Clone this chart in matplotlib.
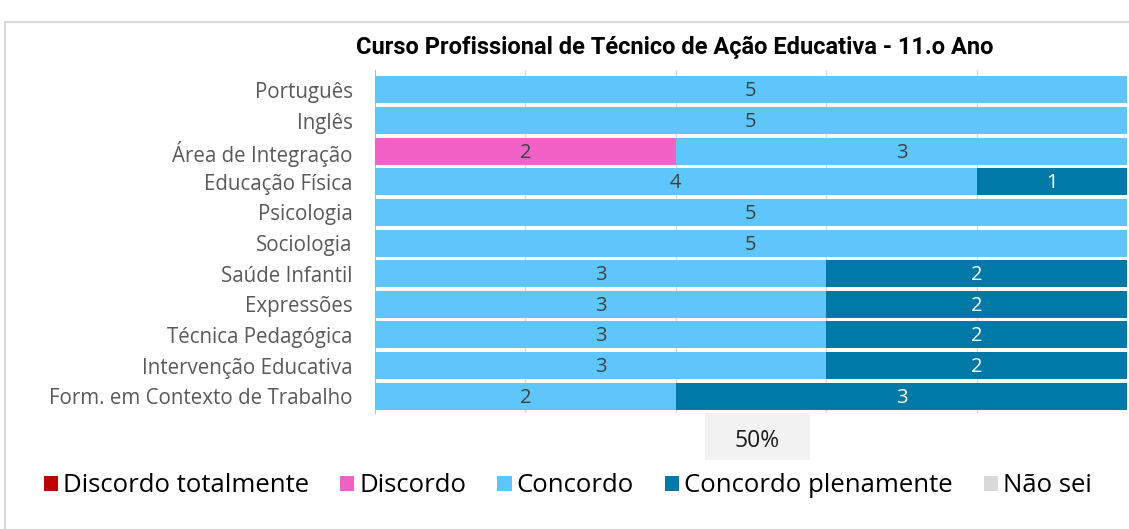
import matplotlib.pyplot as plt
import numpy as np
from matplotlib.patches import Rectangle

plt.rcParams['font.family'] = ['Open Sans', 'DejaVu Sans']

# data
disciplinas = ['Português', 'Inglês', 'Área de Integração', 'Educação Física',
               'Psicologia', 'Sociologia', 'Saúde Infantil', 'Expressões',
               'Técnica Pedagógica', 'Intervenção Educativa',
               'Form. em Contexto de Trabalho']
series_names = ['Discordo totalmente', 'Discordo', 'Concordo',
                'Concordo plenamente', 'Não sei']
discordo_tot = [0, 0, 0, 0, 0, 0, 0, 0, 0, 0, 0]
discordo = [0, 0, 2, 0, 0, 0, 0, 0, 0, 0, 0]
concordo = [5, 5, 3, 4, 5, 5, 3, 3, 3, 3, 2]
concordo_plen = [0, 0, 0, 1, 0, 0, 2, 2, 2, 2, 3]
nao_sei = [0, 0, 0, 0, 0, 0, 0, 0, 0, 0, 0]

colors = ['#C00000', '#F262C6', '#5EC6FB', '#0079A7', '#D9D9D9']
label_colors = ['white', '#404040', '#404040', 'white', '#404040']

fig = plt.figure(figsize=(11.29, 5.29), dpi=100)
# chart frame
fig.patches.append(Rectangle((5 / 1129, -0.01), 1.02, 1 - 22 / 529 + 0.01,
                             transform=fig.transFigure, fill=False,
                             edgecolor='#D9D9D9', lw=1.5))

ax = fig.add_axes([375 / 1129, 1 - 413 / 529, 752 / 1129, 343 / 529])

data = np.array([discordo_tot, discordo, concordo, concordo_plen, nao_sei], dtype=float)
totals = data.sum(axis=0)
y = np.arange(len(disciplinas))
left = np.zeros(len(disciplinas))
for k in range(len(series_names)):
    share = data[k] / totals
    ax.barh(y, share, left=left, height=0.88, color=colors[k],
            label=series_names[k], zorder=3)
    for i in range(len(disciplinas)):
        if data[k][i] > 0:
            ax.text(left[i] + share[i] / 2, y[i] + 0.05, f'{int(data[k][i])}',
                    ha='center', va='center', fontsize=14.5,
                    color=label_colors[k], zorder=4)
    left += share

ax.set_xlim(0, 1)
ax.set_ylim(len(disciplinas) - 0.5 + 0.05, -0.65)
ax.set_yticks(y)
ax.set_yticklabels(disciplinas, fontsize=14.8, color='#595959')
ax.tick_params(axis='y', length=0, pad=16)
ax.set_xticks([0.2, 0.4, 0.6, 0.8])
ax.tick_params(axis='x', length=0, labelbottom=False)
ax.grid(axis='x', color='#D9D9D9', lw=1, zorder=0)
for s in ['top', 'right', 'bottom']:
    ax.spines[s].set_visible(False)
ax.spines['left'].set_color('#BFBFBF')

# "50%" label box below the bars
ax.add_patch(Rectangle((0.439, -0.137), 0.139, 0.137, transform=ax.transAxes,
                       fc='#F2F2F2', ec='none', clip_on=False))
ax.text(0.5085, -0.082, '50%', transform=ax.transAxes, ha='center', va='center',
        fontsize=16.5, color='#1a1a1a')

fig.text(0.598, 1 - 47 / 529, 'Curso Profissional de Técnico de Ação Educativa - 11.o Ano',
         ha='center', va='center', fontsize=17,
         family=['Roboto', 'DejaVu Sans'], fontweight='bold')

fig.legend(loc='center', bbox_to_anchor=(0.503, 1 - 486 / 529), ncol=5,
           frameon=False, fontsize=18.5, handlelength=0.55, handleheight=0.55,
           handletextpad=0.2, columnspacing=1.2)

fig.savefig('out.png', dpi=100)
